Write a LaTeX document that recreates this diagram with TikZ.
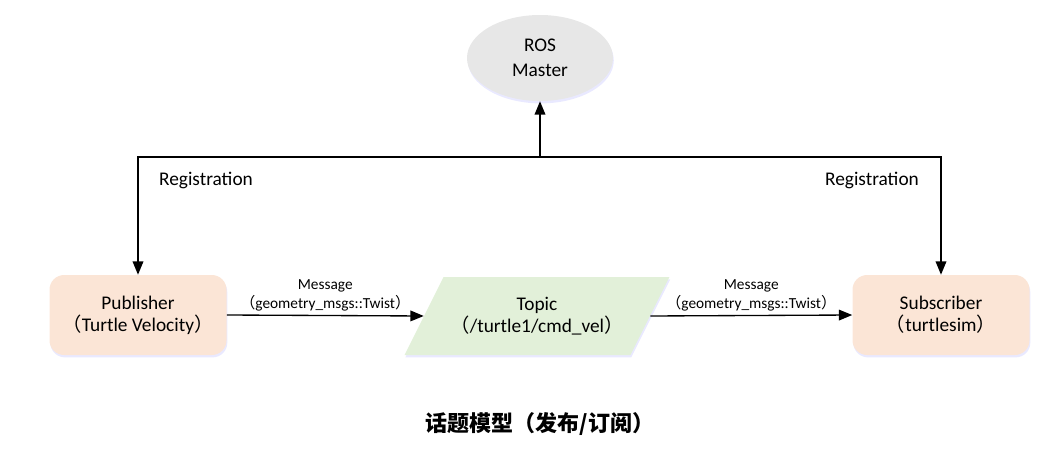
\documentclass[tikz,border=0pt]{standalone}
\usepackage{fontspec}
\setmainfont{Carlito}
\newfontfamily\cjk{Noto Sans CJK SC}
\usetikzlibrary{arrows.meta,shapes.geometric,shadows}
\newcommand{\lpar}{{\cjk （}}
\newcommand{\rpar}{{\cjk ）}}
\tikzset{
  soft/.style={drop shadow={shadow xshift=0.6pt,shadow yshift=-1.8pt,fill=blue!12,opacity=0.7}},
  nodebox/.style={rectangle,rounded corners=11pt,fill=boxorange,soft,
    minimum width=132.75pt,minimum height=60pt,align=center,
    font=\fontsize{14.5}{16.5}\selectfont},
  conn/.style={line width=1pt,-{Triangle[length=10pt,width=8pt]}},
  msg/.style={align=center,font=\fontsize{11.5}{14}\selectfont,inner sep=1pt},
}
\definecolor{boxorange}{HTML}{FBE5D6}
\definecolor{topicgreen}{HTML}{E2F0D9}
\definecolor{mastergray}{HTML}{E7E7E7}
\begin{document}
\begin{tikzpicture}[x=0.75pt,y=0.75pt]
  \useasboundingbox (0,0) rectangle (1054,462);
  \draw
    (540,404) node[ellipse,fill=mastergray,soft,minimum width=109.5pt,minimum height=64.5pt,
      align=center,font=\fontsize{14.5}{18.5}\selectfont] (master){ROS\\Master}
    (138,147) node[nodebox] (pub){Publisher\\\lpar Turtle Velocity\rpar}
    (941,147) node[nodebox] (sub){Subscriber\\\lpar turtlesim\rpar}
    (537,146) node[trapezium,trapezium left angle=51,trapezium right angle=129,
      trapezium stretches=true,fill=topicgreen,soft,minimum width=198.75pt,minimum height=58.5pt,
      align=center,font=\fontsize{14.5}{16.5}\selectfont] (topic){Topic\\\lpar/turtle1/cmd\_vel\rpar};
  \coordinate (bus) at (540,305);
  \begin{scope}[conn]
    \draw (bus) -- (master.south);
    \draw (bus) -| (pub.north);
    \draw (bus) -| (sub.north);
    \draw (pub.east) -- node[msg,above=2pt] (msg1){Message\\\lpar geometry\_msgs::Twist\rpar} (topic.west);
    \draw (topic.east) -- node[msg,above=2pt] (msg2){Message\\\lpar geometry\_msgs::Twist\rpar} (sub.west);
  \end{scope}
  \node[font=\fontsize{14.5}{16.5}\selectfont] (reg1) at (206,282) {Registration};
  \node[font=\fontsize{14.5}{16.5}\selectfont] (reg2) at (872,282) {Registration};
  \node[font=\cjk\bfseries\fontsize{16.5}{19}\selectfont] (title) at (540,38) {话题模型（发布/订阅）};
\end{tikzpicture}
\end{document}
